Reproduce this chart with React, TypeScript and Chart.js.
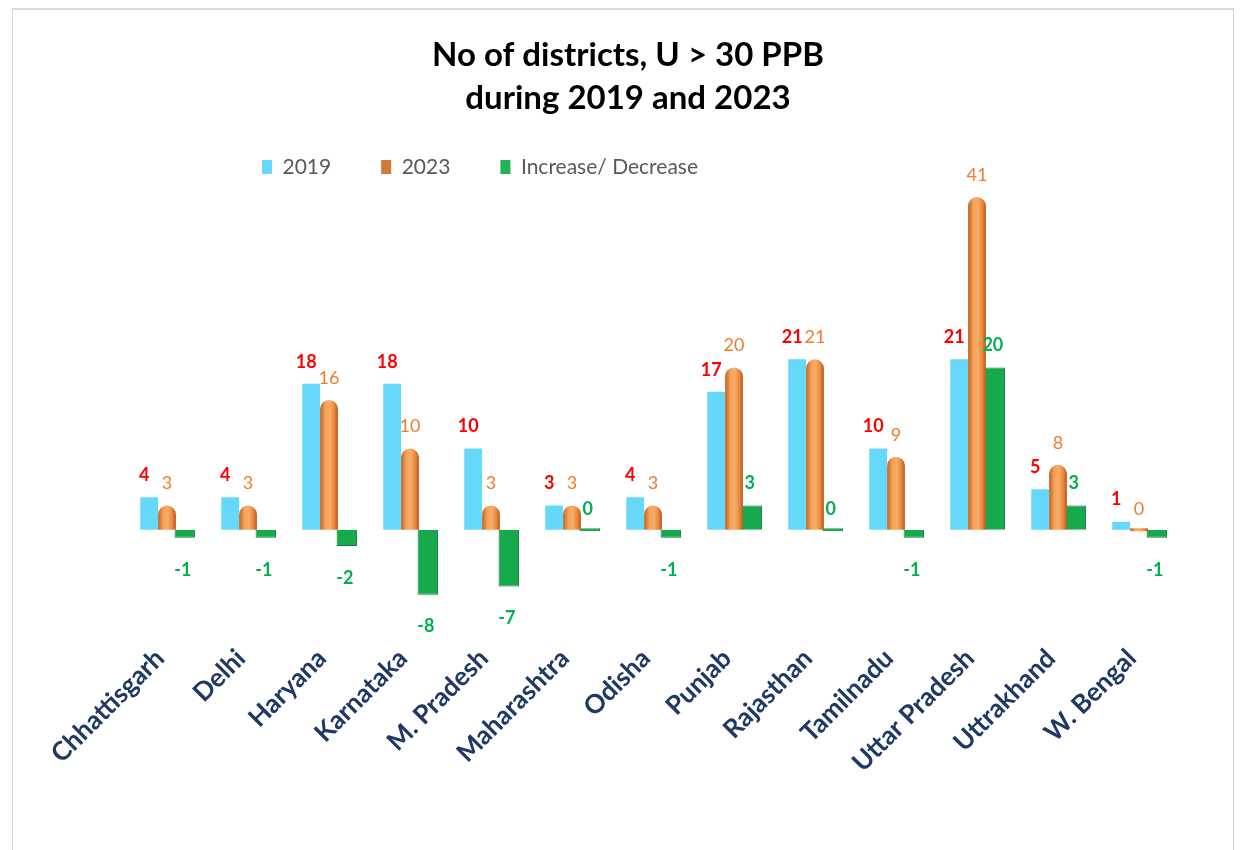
import React, { useEffect, useRef } from 'react';
import { Chart, registerables } from 'chart.js';

Chart.register(...registerables);

const categories = ['Chhattisgarh', 'Delhi', 'Haryana', 'Karnataka', 'M. Pradesh', 'Maharashtra', 'Odisha', 'Punjab', 'Rajasthan', 'Tamilnadu', 'Uttar Pradesh', 'Uttrakhand', 'W. Bengal'];
const values2019 = [4, 4, 18, 18, 10, 3, 4, 17, 21, 10, 21, 5, 1];
const values2023 = [3, 3, 16, 10, 3, 3, 3, 20, 21, 9, 41, 8, 0];
const changeValues = [-1, -1, -2, -8, -7, 0, -1, 3, 0, -1, 20, 3, -1];
const seriesNames = ['2019', '2023', 'Increase/ Decrease'];
const titleLines = ['No of districts, U > 30 PPB', 'during 2019 and 2023'];

const FONT = 'Lato, "Open Sans", sans-serif';

const labelStyles = [
  { font: `bold 18px ${FONT}`, color: '#FF0000', dx: -5, above: 22, below: 32 },
  { font: `18px ${FONT}`, color: '#ED7D31', dx: 0, above: 22, below: 32 },
  { font: `bold 18px ${FONT}`, color: '#00B050', dx: -2, above: 22, below: 32 },
];

const valueLabelPlugin = {
  id: 'valueLabels',
  afterDatasetsDraw(chart: any) {
    const ctx = chart.ctx;
    ctx.save();
    ctx.textAlign = 'center';
    ctx.textBaseline = 'middle';
    chart.data.datasets.forEach((ds: any, di: number) => {
      const meta = chart.getDatasetMeta(di);
      if (meta.hidden) return;
      const st = labelStyles[di];
      meta.data.forEach((el: any, i: number) => {
        const v = ds.data[i];
        ctx.font = st.font;
        ctx.fillStyle = st.color;
        const y = v < 0 ? el.y + st.below : el.y - st.above;
        ctx.fillText(String(v), el.x + st.dx, y);
      });
    });
    ctx.restore();
  },
};

const legendShiftPlugin = {
  id: 'legendShift',
  afterLayout(chart: any) {
    const l = chart.legend;
    if (l) {
      l.left -= 148;
      l.right -= 148;
    }
  },
};

function orangeFill(c: any) {
  const chart = c.chart;
  const xs = chart.scales && chart.scales.x;
  if (!xs || c.type !== 'data' || !chart.chartArea) return '#E9883E';
  const cx = xs.getPixelForValue(c.dataIndex);
  const half = 9;
  const g = chart.ctx.createLinearGradient(cx - half, 0, cx + half, 0);
  g.addColorStop(0, '#C2601C');
  g.addColorStop(0.3, '#F5A35B');
  g.addColorStop(0.55, '#F7AD68');
  g.addColorStop(0.8, '#E8873C');
  g.addColorStop(1, '#B6561A');
  return g;
}

export default function App() {
  const ref = useRef<HTMLCanvasElement | null>(null);

  useEffect(() => {
    let chart: Chart | null = null;
    let cancelled = false;
    const make = () => {
      if (cancelled || !ref.current) return;
      chart = new Chart(ref.current, {
        type: 'bar',
        data: {
          labels: categories,
          datasets: [
            {
              label: seriesNames[0],
              data: values2019,
              backgroundColor: '#66D8FA',
              borderWidth: 0,
            },
            {
              label: seriesNames[1],
              data: values2023,
              backgroundColor: orangeFill as any,
              borderRadius: 9,
              borderSkipped: 'start',
              minBarLength: 3,
              borderWidth: 0,
            },
            {
              label: seriesNames[2],
              data: changeValues,
              backgroundColor: '#17AA4C',
              borderColor: '#0F8038',
              borderWidth: 1,
              minBarLength: 3,
              barPercentage: 1.15,
            },
          ],
        },
        options: {
          responsive: false,
          animation: false,
          layout: { padding: { left: 76.5, right: 66.5, top: 0, bottom: 6 } },
          datasets: { bar: { categoryPercentage: 0.66, barPercentage: 1.0 } },
          plugins: {
            title: {
              display: true,
              text: titleLines,
              color: '#000000',
              font: { family: FONT, size: 33, weight: 'bold', lineHeight: 1.303 },
              padding: { top: 33.5, bottom: -13 },
            },
            legend: {
              display: true,
              position: 'top',
              labels: {
                color: '#595959',
                font: { family: FONT, size: 21 },
                boxWidth: 10,
                boxHeight: 14,
                padding: 50,
                generateLabels: (ch: any) => {
                  const items = Chart.defaults.plugins.legend.labels.generateLabels(ch);
                  const fills = ['#66D8FA', '#D27A3A', '#1FB552'];
                  items.forEach((it: any, i: number) => {
                    it.fillStyle = fills[i];
                    it.strokeStyle = fills[i];
                    it.lineWidth = 0;
                  });
                  return items;
                },
              },
            },
            tooltip: { enabled: false },
          },
          scales: {
            x: {
              grid: { display: false },
              border: { display: false },
              ticks: {
                autoSkip: false,
                minRotation: 45,
                maxRotation: 45,
                color: '#1F3864',
                font: { family: FONT, size: 26, weight: 'bold' },
                padding: 16,
                labelOffset: -7,
              },
              afterFit: (s: any) => {
                s.height = 225;
              },
            },
            y: {
              min: -11,
              max: 42.18,
              display: true,
              grid: { display: false },
              border: { display: false },
              ticks: { display: false },
              afterFit: (s: any) => {
                s.width = 50;
              },
            },
          },
        },
        plugins: [valueLabelPlugin, legendShiftPlugin],
      });
    };
    const fontsReady = (document as any).fonts
      ? Promise.all([
          (document as any).fonts.load(`bold 21px Lato`),
          (document as any).fonts.load(`18px Lato`),
        ]).catch(() => null)
      : Promise.resolve(null);
    fontsReady.then(make);
    return () => {
      cancelled = true;
      if (chart) chart.destroy();
    };
  }, []);

  return (
    <div style={{ position: 'fixed', left: 0, top: 0, width: 1246, height: 850, background: '#ffffff', overflow: 'hidden' }}>
      <div
        style={{
          position: 'absolute',
          left: 12,
          top: 8,
          width: 1220,
          height: 900,
          border: '1px solid #d4d4d4',
          borderTop: '2px solid #d9d9d9',
        }}
      />
      <canvas ref={ref} width={1246} height={850} style={{ position: 'absolute', left: 0, top: 0, width: 1246, height: 850 }} />
    </div>
  );
}
